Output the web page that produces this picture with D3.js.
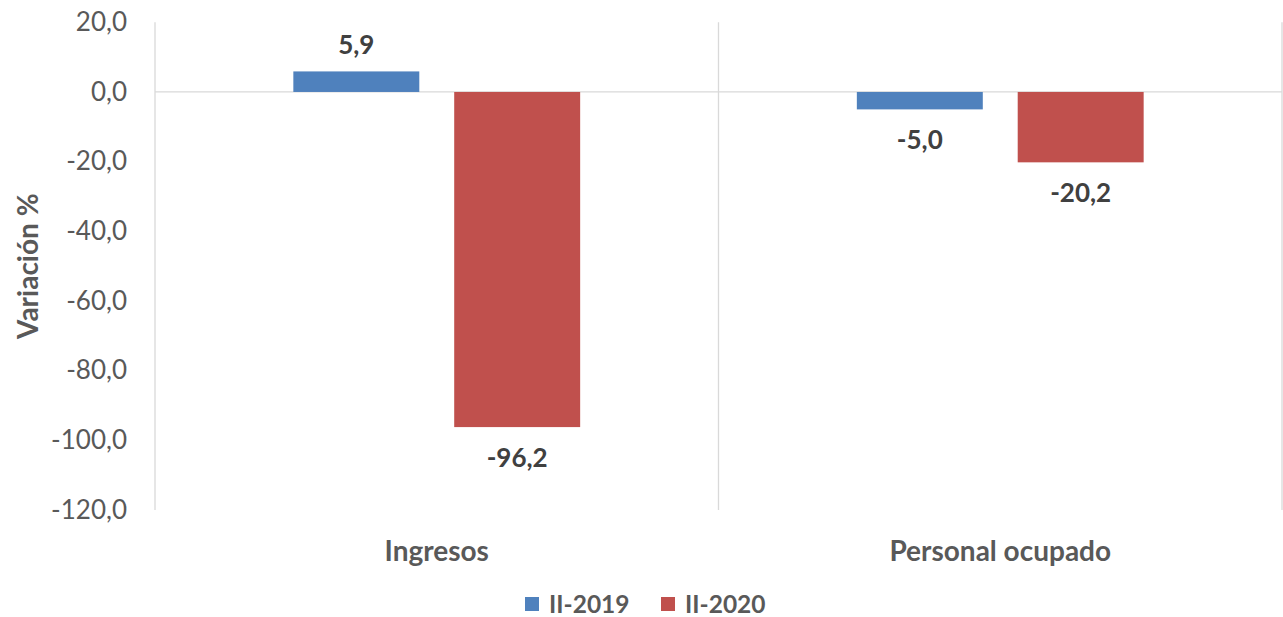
<!DOCTYPE html>
<html><head><meta charset="utf-8">
<script src="https://cdn.jsdelivr.net/npm/d3@7"></script>
<style>body{margin:0;background:#fff}svg{display:block}text{font-family:Lato,"Open Sans",sans-serif}</style>
</head><body><svg id="c" width="1283" height="617"></svg>
<script>
const categories = ["Ingresos", "Personal ocupado"];
const seriesNames = ["II-2019", "II-2020"];
const seriesColors = ["#4f81bd", "#c0504d"];
const values2019 = [5.9, -5.0];
const values2020 = [-96.2, -20.2];
const yTicks = [20, 0, -20, -40, -60, -80, -100, -120];

(function () {
const svg = d3.select("#c");
const pLeft = 155, pRight = 1282, pTop = 22.3, pBottom = 510;
const fmt = v => v.toFixed(1).replace(".", ",");

const y = d3.scaleLinear().domain([-120, 20]).range([pBottom, pTop]);
const x0 = d3.scaleBand().domain(categories).range([pLeft, pRight]).paddingInner(0.491).paddingOuter(0.2455);
const x1 = d3.scaleBand().domain(seriesNames).range([0, x0.bandwidth()]).paddingInner(0.217).paddingOuter(0);

const step = (pRight - pLeft) / categories.length;
const seps = d3.range(categories.length + 1).map(i => pLeft + i * step);
svg.selectAll("line.sep").data(seps).join("line")
  .attr("x1", d => d).attr("x2", d => d).attr("y1", pTop).attr("y2", pBottom)
  .attr("stroke", "#d9d9d9").attr("stroke-width", 1.3);

const yAxis = d3.axisLeft(y).tickValues(yTicks).tickFormat(fmt).tickSize(0).tickPadding(0);
const ga = svg.append("g").attr("transform", `translate(127,0)`).call(yAxis);
ga.select(".domain").remove();
ga.selectAll("text").attr("font-size", 26).attr("fill", "#595959").attr("font-family", "Lato, sans-serif");

svg.append("line").attr("x1", pLeft).attr("x2", pRight).attr("y1", y(0)).attr("y2", y(0))
  .attr("stroke", "#d9d9d9").attr("stroke-width", 1.3);

const data = categories.flatMap((c, i) => [
  {c, s: seriesNames[0], v: values2019[i], col: seriesColors[0]},
  {c, s: seriesNames[1], v: values2020[i], col: seriesColors[1]}
]);

svg.selectAll("rect.bar").data(data).join("rect")
  .attr("x", d => x0(d.c) + x1(d.s)).attr("width", x1.bandwidth())
  .attr("y", d => y(Math.max(0, d.v))).attr("height", d => Math.abs(y(d.v) - y(0)))
  .attr("fill", d => d.col);

svg.selectAll("text.lbl").data(data).join("text")
  .attr("x", d => x0(d.c) + x1(d.s) + x1.bandwidth() / 2)
  .attr("y", d => d.v >= 0 ? y(d.v) - 27 : y(d.v) + 30)
  .attr("text-anchor", "middle").attr("dominant-baseline", "central")
  .attr("font-size", 26).attr("font-weight", "bold").attr("fill", "#404040")
  .text(d => fmt(d.v));

svg.selectAll("text.cat").data(categories).join("text")
  .attr("x", d => x0(d) + x0.bandwidth() / 2).attr("y", 550)
  .attr("text-anchor", "middle").attr("dominant-baseline", "central")
  .attr("font-size", 28).attr("font-weight", "bold").attr("fill", "#595959")
  .text(d => d);

svg.append("text").attr("transform", `translate(27,${(pTop + pBottom) / 2}) rotate(-90)`)
  .attr("text-anchor", "middle").attr("dominant-baseline", "central")
  .attr("font-size", 28).attr("font-weight", "bold").attr("fill", "#595959")
  .text("Variación %");

const legX = [525, 661];
seriesNames.forEach((s, i) => {
  svg.append("rect").attr("x", legX[i]).attr("y", 597).attr("width", 14).attr("height", 14).attr("fill", seriesColors[i]);
  svg.append("text").attr("x", legX[i] + 24).attr("y", 603).attr("dominant-baseline", "central")
    .attr("font-size", 24.5).attr("font-weight", "bold").attr("fill", "#595959").text(s);
});
})();
</script></body></html>
